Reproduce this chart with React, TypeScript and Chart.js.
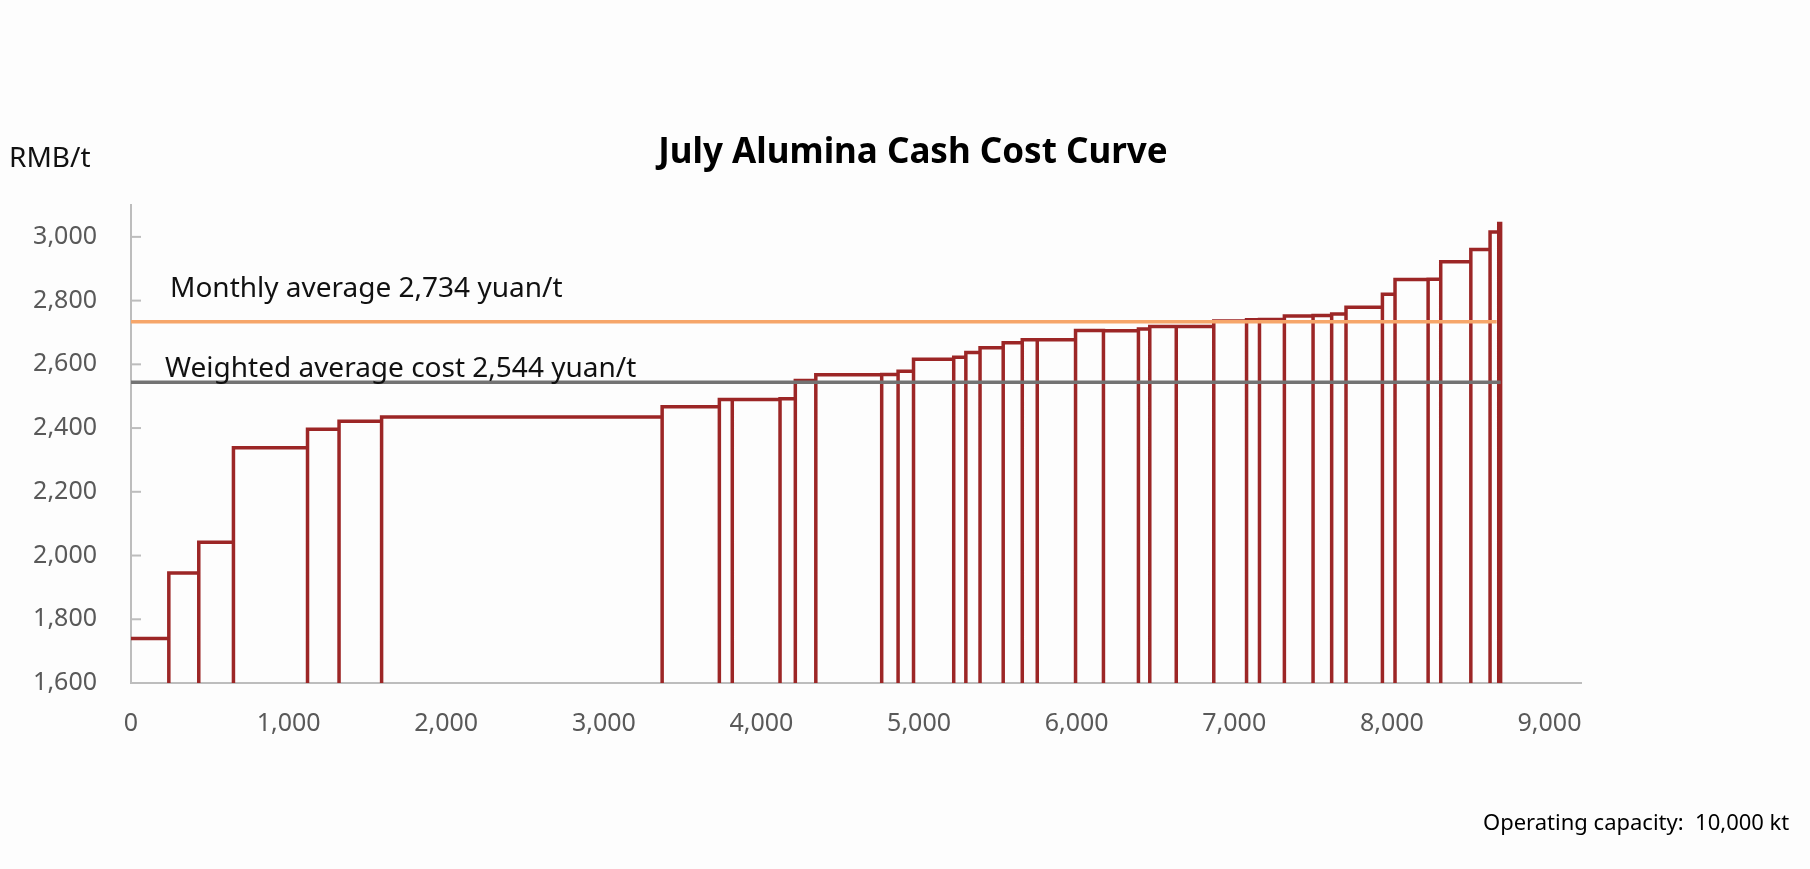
import { useEffect, useRef } from "react";
import { Chart, registerables } from "chart.js";

Chart.register(...registerables);

// capacity of each refinery (kt) in cost order, and its cash cost (RMB/t)
const capacities = [
  240, 190, 220, 470, 200, 270, 1780, 363, 82, 303, 97, 130, 418, 104, 98, 255, 77, 90, 147, 121, 95,
  243, 177, 222, 72, 168, 238, 208, 82, 158, 182, 118, 91, 231, 80, 210, 80, 191, 122, 55, 12,
];
const cashCosts = [
  1740, 1945, 2042, 2338, 2396, 2421, 2435, 2467, 2490, 2490, 2492, 2549, 2567, 2568, 2578, 2616, 2622,
  2637, 2652, 2668, 2677, 2677, 2706, 2705, 2711, 2719, 2719, 2736, 2740, 2741, 2752, 2753, 2758, 2779,
  2820, 2866, 2867, 2922, 2960, 3015, 3042,
];

const averageValues = [2734, 2544];
const averageEnds = [8665, 8690];
const averageLabels = ["Monthly average 2,734 yuan/t", "Weighted average cost 2,544 yuan/t"];
const averageColors = ["#F6A66A", "#737373"];

const xTicks = [0, 1000, 2000, 3000, 4000, 5000, 6000, 7000, 8000, 9000];
const xMax = 9200;
const yTicks = [1600, 1800, 2000, 2200, 2400, 2600, 2800, 3000];
const yMin = 1600;
const yMax = 3100;

const RED = "#9C2626";
const AXIS = "#BDBDBD";
const TICK_TEXT = "#595959";
const FONT = "'Noto Sans', 'Open Sans', sans-serif";

function buildCurve() {
  const pts: { x: number; y: number | null }[] = [];
  let start = 0;
  capacities.forEach((w, i) => {
    const end = start + w;
    if (i > 0) pts.push({ x: start, y: yMin });
    pts.push({ x: start, y: cashCosts[i] }, { x: end, y: cashCosts[i] }, { x: end, y: yMin });
    pts.push({ x: end, y: null });
    start = end;
  });
  return pts;
}

const insideTicks = {
  id: "insideTicks",
  afterDraw(chart: any) {
    const { ctx, scales } = chart;
    const y = scales.y;
    ctx.save();
    ctx.strokeStyle = AXIS;
    ctx.lineWidth = 2;
    y.ticks.forEach((t: any) => {
      const py = y.getPixelForValue(t.value);
      ctx.beginPath();
      ctx.moveTo(y.right, py);
      ctx.lineTo(y.right + 10, py);
      ctx.stroke();
    });
    ctx.restore();
  },
};

const averageText = {
  id: "averageText",
  afterDatasetsDraw(chart: any) {
    const { ctx, scales } = chart;
    const offsets = [
      [39, -25],
      [34, -5],
    ];
    ctx.save();
    ctx.font = `28px ${FONT}`;
    ctx.fillStyle = "#111111";
    ctx.textBaseline = "alphabetic";
    averageLabels.forEach((label, i) => {
      const px = scales.x.getPixelForValue(0) + offsets[i][0];
      const py = scales.y.getPixelForValue(averageValues[i]) + offsets[i][1];
      ctx.fillText(label, px, py);
    });
    ctx.restore();
  },
};

const fmt = (v: any) => Number(v).toLocaleString("en-US");

export default function App() {
  const canvasRef = useRef<HTMLCanvasElement | null>(null);
  const chartRef = useRef<Chart | null>(null);

  useEffect(() => {
    document.body.style.margin = "0";
    if (!canvasRef.current) return;
    if (chartRef.current) chartRef.current.destroy();

    const lineSets = averageValues.map((v, i) => ({
      type: "line" as const,
      data: [
        { x: 0, y: v },
        { x: averageEnds[i], y: v },
      ],
      borderColor: averageColors[i],
      borderWidth: 3.5,
      pointRadius: 0,
    }));

    chartRef.current = new Chart(canvasRef.current, {
      type: "scatter",
      data: {
        datasets: [
          ...lineSets,
          {
            type: "line",
            data: buildCurve(),
            borderColor: RED,
            borderWidth: 3.5,
            pointRadius: 0,
            spanGaps: false,
            borderJoinStyle: "miter",
            borderCapStyle: "butt",
          },
        ] as any,
      },
      options: {
        responsive: false,
        animation: false,
        layout: { padding: { left: 0, right: 229, top: 205, bottom: 126 } },
        plugins: { legend: { display: false }, tooltip: { enabled: false } },
        scales: {
          x: {
            type: "linear",
            min: 0,
            max: xMax,
            afterBuildTicks: (s: any) => {
              s.ticks = xTicks.map((value) => ({ value }));
            },
            afterFit: (s: any) => {
              s.height = 60;
            },
            grid: { drawOnChartArea: false, drawTicks: false },
            border: { color: AXIS, width: 2 },
            ticks: {
              padding: 26,
              autoSkip: false,
              maxRotation: 0,
              color: TICK_TEXT,
              font: { family: FONT, size: 25 },
              callback: fmt,
            },
          },
          y: {
            type: "linear",
            min: yMin,
            max: yMax,
            afterBuildTicks: (s: any) => {
              s.ticks = yTicks.map((value) => ({ value }));
            },
            afterFit: (s: any) => {
              s.width = 131;
            },
            grid: { drawOnChartArea: false, drawTicks: false },
            border: { color: AXIS, width: 2 },
            ticks: {
              padding: 34,
              autoSkip: false,
              color: TICK_TEXT,
              font: { family: FONT, size: 25 },
              callback: fmt,
            },
          },
        },
      },
      plugins: [insideTicks, averageText],
    });

    return () => {
      if (chartRef.current) {
        chartRef.current.destroy();
        chartRef.current = null;
      }
    };
  }, []);

  return (
    <div style={{ position: "relative", width: 1810, height: 869, background: "#FDFDFD", overflow: "hidden" }}>
      <canvas ref={canvasRef} width={1810} height={869} style={{ position: "absolute", left: 0, top: 0 }}></canvas>
      <div
        style={{
          position: "absolute",
          left: 913,
          top: 128,
          transform: "translateX(-50%)",
          fontFamily: FONT,
          fontWeight: 700,
          fontSize: 35,
          lineHeight: "44px",
          color: "#000",
          whiteSpace: "nowrap",
        }}
      >
        July Alumina Cash Cost Curve
      </div>
      <div
        style={{
          position: "absolute",
          left: 9,
          top: 138,
          fontFamily: FONT,
          fontSize: 28,
          lineHeight: "36px",
          color: "#111",
        }}
      >
        RMB/t
      </div>
      <div
        style={{
          position: "absolute",
          left: 1483,
          top: 807,
          fontFamily: FONT,
          fontSize: 22,
          lineHeight: "28px",
          color: "#000",
          whiteSpace: "pre",
        }}
      >
        {"Operating capacity:  10,000 kt"}
      </div>
    </div>
  );
}
